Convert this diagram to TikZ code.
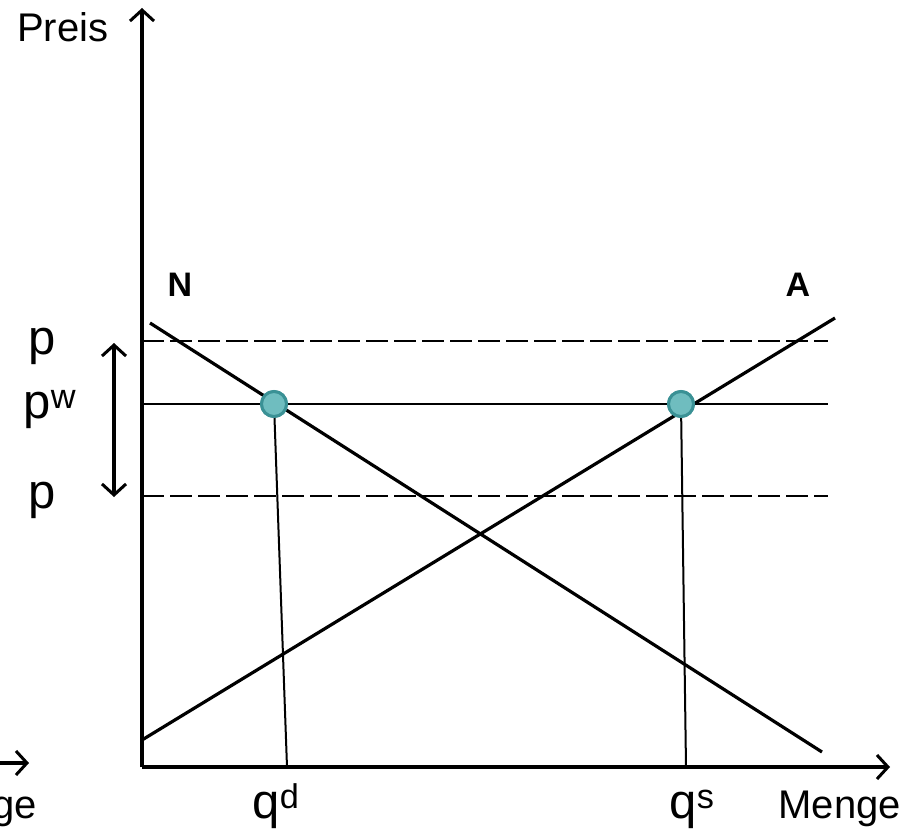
\documentclass[tikz,border=0pt]{standalone}
\usepackage{fontspec}
\setmainfont{Liberation Sans}
\usetikzlibrary{arrows.meta}
\definecolor{dotfill}{HTML}{6FBDBF}
\definecolor{dotline}{HTML}{3A9195}
\tikzset{
  axis/.style={line width=3.2pt,-{Straight Barb[length=11pt,width=24pt,line width=3pt]}},
  curve/.style={line width=3.2pt},
  dashline/.style={line width=2.8pt,dash pattern=on 21.5pt off 6.5pt},
  pline/.style={line width=2.4pt},
  qline/.style={line width=2pt},
  dot/.style={circle,draw=dotline,fill=dotfill,line width=3pt,minimum size=25pt,inner sep=0pt},
  axlabel/.style={font=\fontsize{40}{46}\selectfont,inner sep=0pt},
  plabel/.style={font=\fontsize{49}{55}\selectfont,inner sep=0pt,anchor=base},
  curvelabel/.style={font=\fontsize{34}{40}\selectfont\bfseries,inner sep=0pt},
  darrow/.style={line width=3.2pt,{Straight Barb[length=11pt,width=24pt,line width=3pt]}-{Straight Barb[length=11pt,width=24pt,line width=3pt]}}
}
\begin{document}
\begin{tikzpicture}[x=1pt,y=-1pt]
\useasboundingbox (0,0) rectangle (917,834);
% coordinates
\coordinate (O) at (142,767);
\coordinate (Ytop) at (142,8);
\coordinate (Xend) at (890,767);
\coordinate (Nstart) at (150,323);
\coordinate (Nend) at (822,752);
\coordinate (Astart) at (142,740);
\coordinate (Aend) at (835,318);
\coordinate (ptopL) at (142,341);
\coordinate (ptopR) at (828,341);
\coordinate (pwL) at (142,404);
\coordinate (pwR) at (828,404);
\coordinate (pbotL) at (142,496);
\coordinate (pbotR) at (828,496);
\coordinate (qdB) at (287,767);
\coordinate (qsB) at (686,767);
\coordinate (da1) at (114,343);
\coordinate (da2) at (114,497);
\coordinate (lA1) at (-20,763);
\coordinate (lA2) at (29,763);
% horizontal price lines
\draw[dashline] (ptopL) -- (ptopR);
\draw[dashline] (pbotL) -- (pbotR);
\draw[pline] (pwL) -- (pwR);
% curves
\draw[curve] (Nstart) -- (Nend);
\draw[curve] (Astart) -- (Aend);
% dots
\node[dot] (dd) at (274,404) {};
\node[dot] (ds) at (681,404) {};
% vertical quantity lines
\draw[qline] (dd.center) -- (qdB);
\draw[qline] (ds.center) -- (qsB);
\node[dot] at (dd) {};
\node[dot] at (ds) {};
% axes
\draw[axis] (O) -- (Ytop);
\draw[axis] (O) -- (Xend);
% double arrow
\draw[darrow] (da1) -- (da2);
% partial left arrow
\draw[axis] (lA1) -- (lA2);
% labels
\node[axlabel,anchor=base west] (preis) at (17,42) {Preis};
\node[axlabel,anchor=base east] (menge) at (901,818) {Menge};
\node[axlabel,anchor=base east] (menge2) at (37,818) {Menge};
\node[plabel] (p1) at (42,354) {p};
\node[plabel] (pw) at (50,418) {p\textsuperscript{w}};
\node[plabel] (p2) at (42,508) {p};
\node[plabel] (qd) at (276,818) {q\textsuperscript{d}};
\node[plabel] (qs) at (692,818) {q\textsuperscript{s}};
\node[curvelabel] (N) at (180,285) {N};
\node[curvelabel] (A) at (798,285) {A};
\end{tikzpicture}
\end{document}
